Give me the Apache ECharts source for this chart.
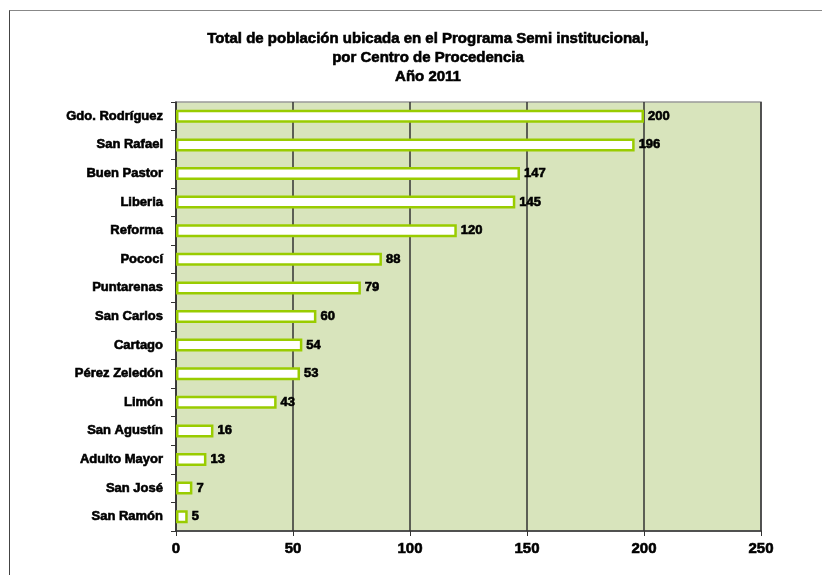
<!DOCTYPE html>
<html>
<head>
<meta charset="utf-8">
<script src="https://cdn.jsdelivr.net/npm/echarts@6/dist/echarts.min.js"></script>
<style>
  html, body { margin: 0; padding: 0; background: #fff; overflow: hidden; }
  #frame { position: absolute; left: 9px; top: 10px; width: 900px; height: 700px; border-left: 1.5px solid #444; border-top: 1.5px solid #888; }
  #chart { position: absolute; left: 0; top: 0; width: 822px; height: 575px; }
</style>
</head>
<body>
<div id="frame"></div>
<div id="chart"></div>
<script>
const centros = ['Gdo. Rodríguez', 'San Rafael', 'Buen Pastor', 'Liberia', 'Reforma', 'Pococí', 'Puntarenas',
  'San Carlos', 'Cartago', 'Pérez Zeledón', 'Limón', 'San Agustín', 'Adulto Mayor', 'San José', 'San Ramón']
const poblacion = [200, 196, 147, 145, 120, 88, 79, 60, 54, 53, 43, 16, 13, 7, 5]

const font = 'Liberation Sans, Arial, sans-serif'
// heavier strokes so the text reads like the original's thick Arial
const heavy = { fontFamily: font, fontWeight: 'bold', color: '#000', textBorderColor: '#000', textBorderWidth: 0.6 }
const chart = echarts.init(document.getElementById('chart'))

chart.setOption({
  animation: false,
  title: {
    text: 'Total de población ubicada en el Programa Semi institucional,\npor Centro de Procedencia\nAño 2011',
    left: 423, textAlign: 'center', top: 24,
    textStyle: { ...heavy, fontSize: 15, lineHeight: 19 }
  },
  grid: {
    left: 176, right: 61, top: 102, bottom: 44,
    show: true, backgroundColor: '#D8E4BC', borderColor: '#999', borderWidth: 1.5
  },
  xAxis: {
    type: 'value', min: 0, max: 250, interval: 50,
    axisLine: { show: true, lineStyle: { color: '#333', width: 1.5 } },
    axisTick: { show: true, length: 5, lineStyle: { color: '#333' } },
    axisLabel: { ...heavy, fontSize: 15, margin: 10 },
    splitLine: { show: true, lineStyle: { color: '#333', width: 1.5 } }
  },
  yAxis: {
    type: 'category', data: centros, inverse: true,
    axisLine: { show: true, lineStyle: { color: '#333', width: 1.5 } },
    axisTick: { show: true, length: 5, lineStyle: { color: '#333' } },
    axisLabel: { ...heavy, fontSize: 13, margin: 13 }
  },
  series: [{
    type: 'bar', data: poblacion, barWidth: 13,
    itemStyle: { color: '#fff', borderColor: '#99CC00', borderWidth: 2.5 },
    label: { show: true, position: 'right', distance: 4, ...heavy, fontSize: 13 }
  }]
})
</script>
</body>
</html>
